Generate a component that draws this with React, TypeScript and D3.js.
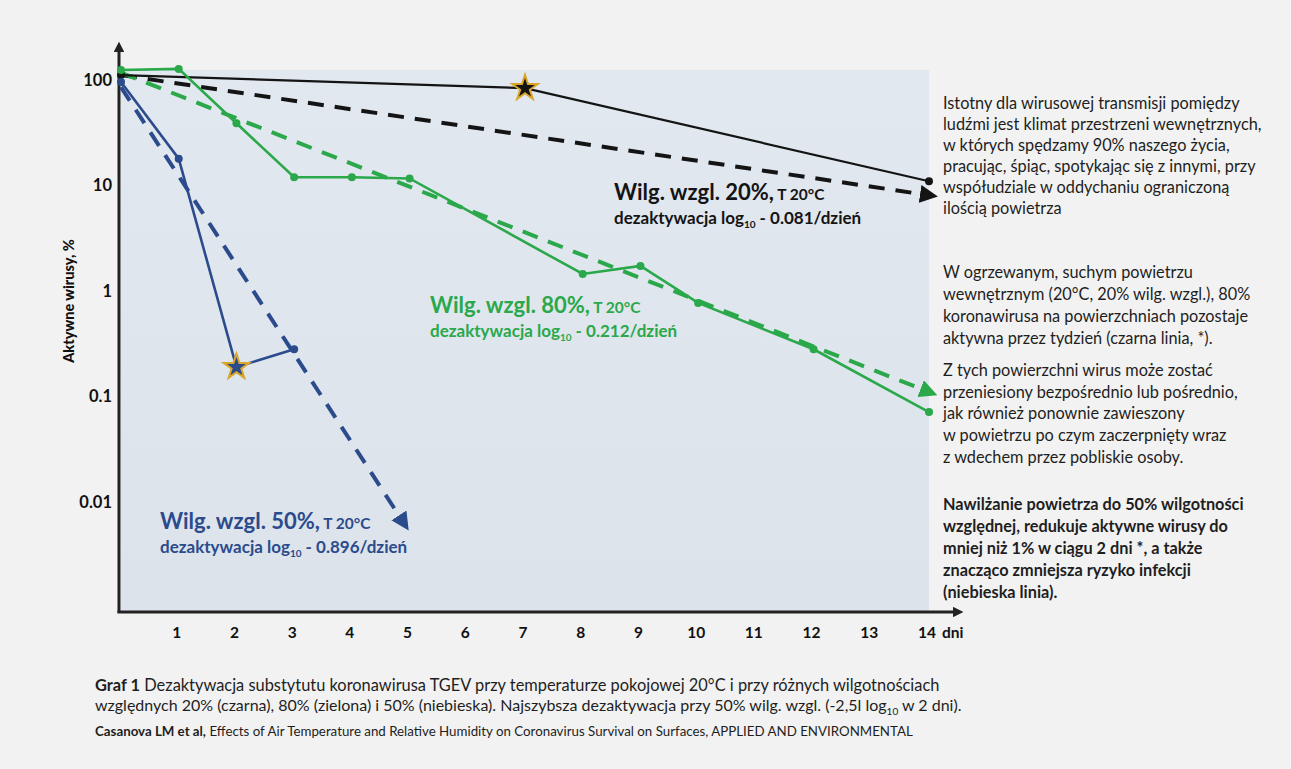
import React from "react";
import * as d3 from "d3";

// dane (dni, % aktywnych wirusów)
const blackDays = [0, 7, 14];
const blackVals = [112, 84, 11];
const blackTrendDays = [0, 14];
const blackTrendVals = [112, 8.1];

const greenDays = [0, 1, 2, 3, 4, 5, 8, 9, 10, 12, 14];
const greenVals = [125, 128, 39, 12, 12, 11.7, 1.45, 1.73, 0.77, 0.28, 0.071];
const greenTrendDays = [0, 14];
const greenTrendVals = [118, 0.11];

const blueDays = [0, 1, 2, 3];
const blueVals = [96, 18, 0.19, 0.28];
const blueTrendDays = [0, 4.9];
const blueTrendVals = [86, 0.0063];

const yTicks = [100, 10, 1, 0.1, 0.01];
const yTickLabels = ["100", "10", "1", "0.1", "0.01"];
const xTicks = [1, 2, 3, 4, 5, 6, 7, 8, 9, 10, 11, 12, 13, 14];

const rightPara1 = [
  "Istotny dla wirusowej transmisji pomiędzy",
  "ludźmi jest klimat przestrzeni wewnętrznych,",
  "w których spędzamy 90% naszego życia,",
  "pracując, śpiąc, spotykając się z innymi, przy",
  "współudziale w oddychaniu ograniczoną",
  "ilością powietrza",
];
const rightPara2 = [
  "W ogrzewanym, suchym powietrzu",
  "wewnętrznym (20°C, 20% wilg. wzgl.), 80%",
  "koronawirusa na powierzchniach pozostaje",
  "aktywna przez tydzień (czarna linia, *).",
];
const rightPara3 = [
  "Z tych powierzchni wirus może zostać",
  "przeniesiony bezpośrednio lub pośrednio,",
  "jak również ponownie zawieszony",
  "w powietrzu po czym zaczerpnięty wraz",
  "z wdechem przez pobliskie osoby.",
];
const rightPara4 = [
  "Nawilżanie powietrza do 50% wilgotności",
  "względnej, redukuje aktywne wirusy do",
  "mniej niż 1% w ciągu 2 dni *, a także",
  "znacząco zmniejsza ryzyko infekcji",
  "(niebieska linia).",
];

const BLACK = "#141414";
const GREEN = "#2aa84a";
const BLUE = "#2b4b8c";
const FONT = "Lato, 'Open Sans', sans-serif";

const x = d3.scaleLinear().domain([0, 14]).range([121, 929]);
const y = d3.scaleLog().domain([0.0009, 125]).range([612, 70]);

const line = d3
  .line<[number, number]>()
  .x((d) => x(d[0]))
  .y((d) => y(d[1]));

const pts = (days: number[], vals: number[]) =>
  days.map((d, i) => [d, vals[i]] as [number, number]);

const star = d3.symbol().type(d3.symbolStar).size(200)();

function Label({ px, py, color, big, rate }: any) {
  return (
    <g fill={color} fontFamily={FONT} fontWeight="bold">
      <text x={px} y={py} fontSize={22}>
        {big}
        <tspan fontSize={15.5}> T 20°C</tspan>
      </text>
      <text x={px} y={py + 24} fontSize={17}>
        dezaktywacja log
        <tspan fontSize={10} dy={4}>
          10
        </tspan>
        <tspan dy={-4}> - {rate}/dzień</tspan>
      </text>
    </g>
  );
}

export default function App() {
  const series = [
    { d: blackTrendDays, v: blackTrendVals, c: BLACK, id: "ab" },
    { d: greenTrendDays, v: greenTrendVals, c: GREEN, id: "ag" },
    { d: blueTrendDays, v: blueTrendVals, c: BLUE, id: "au" },
  ];
  const solids = [
    { d: blackDays, v: blackVals, c: BLACK, dots: [0, 14] },
    { d: greenDays, v: greenVals, c: GREEN, dots: greenDays },
    { d: blueDays, v: blueVals, c: BLUE, dots: [0, 1, 3] },
  ];
  return (
    <svg
      width={1291}
      height={769}
      style={{ position: "absolute", left: 0, top: 0 }}
    >
      <defs>
        <linearGradient id="bg" x1="0" y1="0" x2="0" y2="1">
          <stop offset="0" stopColor="#e1e8f0" />
          <stop offset="1" stopColor="#dce3eb" />
        </linearGradient>
        {series.map((s) => (
          <marker
            key={s.id}
            id={s.id}
            viewBox="0 0 10 10"
            refX={5}
            refY={5}
            markerWidth={4.5}
            markerHeight={4.5}
            orient="auto"
          >
            <path d="M0,0 L10,5 L0,10 z" fill={s.c} />
          </marker>
        ))}
        <marker
          id="axArrow"
          viewBox="0 0 10 10"
          refX={2}
          refY={5}
          markerWidth={3.5}
          markerHeight={3.5}
          orient="auto"
        >
          <path d="M0,0 L10,5 L0,10 z" fill="#222" />
        </marker>
      </defs>
      <rect width={1291} height={769} fill="#f2f2f2" />
      <rect x={121} y={70} width={808} height={542} fill="url(#bg)" />

      {/* osie */}
      <line
        x1={119}
        y1={613}
        x2={119}
        y2={50}
        stroke="#222"
        strokeWidth={3}
        markerEnd="url(#axArrow)"
      />
      <line
        x1={117.5}
        y1={612}
        x2={955}
        y2={612}
        stroke="#222"
        strokeWidth={3}
        markerEnd="url(#axArrow)"
      />

      <g fontFamily={FONT} fontWeight="bold" fill="#111">
        {yTicks.map((t, i) => (
          <text
            key={t}
            x={112}
            y={y(t)}
            dy="0.35em"
            textAnchor="end"
            fontSize={16.5}
          >
            {yTickLabels[i]}
          </text>
        ))}
        {xTicks.map((t) => (
          <text key={t} x={x(t) - 2} y={638} textAnchor="middle" fontSize={15.5}>
            {t}
          </text>
        ))}
        <text x={x(14) + 13} y={638} fontSize={15.5}>
          dni
        </text>
        <text
          transform="translate(74,301) rotate(-90)"
          textAnchor="middle"
          fontSize={14.5}
          fontWeight={900}
        >
          Aktywne wirusy, %
        </text>
      </g>

      {/* linie trendu */}
      {series.map((s) => (
        <path
          key={s.id}
          d={line(pts(s.d, s.v)) || ""}
          fill="none"
          stroke={s.c}
          strokeWidth={4}
          strokeDasharray="16 11"
          markerEnd={`url(#${s.id})`}
        />
      ))}

      {/* dane pomiarowe */}
      {solids.map((s, k) => (
        <g key={k}>
          <path
            d={line(pts(s.d, s.v)) || ""}
            fill="none"
            stroke={s.c}
            strokeWidth={k === 0 ? 2.2 : 2.6}
          />
          {s.dots.map((dd) => {
            const i = s.d.indexOf(dd);
            return (
              <circle key={dd} cx={x(dd)} cy={y(s.v[i])} r={4} fill={s.c} />
            );
          })}
        </g>
      ))}

      <path
        d={star || ""}
        transform={`translate(${x(7)},${y(blackVals[1])})`}
        fill={BLACK}
        stroke="#d9a62a"
        strokeWidth={2}
      />
      <path
        d={star || ""}
        transform={`translate(${x(2)},${y(blueVals[2])})`}
        fill={BLUE}
        stroke="#d9a62a"
        strokeWidth={2}
      />

      <Label px={614} py={200} color={BLACK} big="Wilg. wzgl. 20%," rate="0.081" />
      <Label px={430} py={313} color={GREEN} big="Wilg. wzgl. 80%," rate="0.212" />
      <Label px={160} py={529} color={BLUE} big="Wilg. wzgl. 50%," rate="0.896" />

      {/* tekst po prawej */}
      <g fontFamily={FONT} fontSize={16.3} fill="#1e1e1e">
        {rightPara1.map((t, i) => (
          <text key={t} x={943} y={109 + i * 21}>
            {t}
          </text>
        ))}
        {rightPara2.map((t, i) => (
          <text key={t} x={943} y={278 + i * 22}>
            {t}
          </text>
        ))}
        {rightPara3.map((t, i) => (
          <text key={t} x={943} y={376 + i * 21.7}>
            {t}
          </text>
        ))}
        {rightPara4.map((t, i) => (
          <text key={t} x={943} y={510 + i * 22} fontWeight="bold">
            {t}
          </text>
        ))}
      </g>

      {/* podpis */}
      <g fontFamily={FONT} fill="#1e1e1e">
        <text x={95} y={691} fontSize={16.4}>
          <tspan fontWeight="bold">Graf 1</tspan> Dezaktywacja substytutu
          koronawirusa TGEV przy temperaturze pokojowej 20°C i przy różnych
          wilgotnościach
        </text>
        <text x={95} y={711} fontSize={16}>
          względnych 20% (czarna), 80% (zielona) i 50% (niebieska). Najszybsza
          dezaktywacja przy 50% wilg. wzgl. (-2,5l log
          <tspan fontSize={10} dy={4}>
            10
          </tspan>
          <tspan dy={-4}> w 2 dni).</tspan>
        </text>
        <text x={95} y={736} fontSize={13.3}>
          <tspan fontWeight="bold">Casanova LM et al,</tspan> Effects of Air
          Temperature and Relative Humidity on Coronavirus Survival on Surfaces,
          APPLIED AND ENVIRONMENTAL
        </text>
      </g>
    </svg>
  );
}
